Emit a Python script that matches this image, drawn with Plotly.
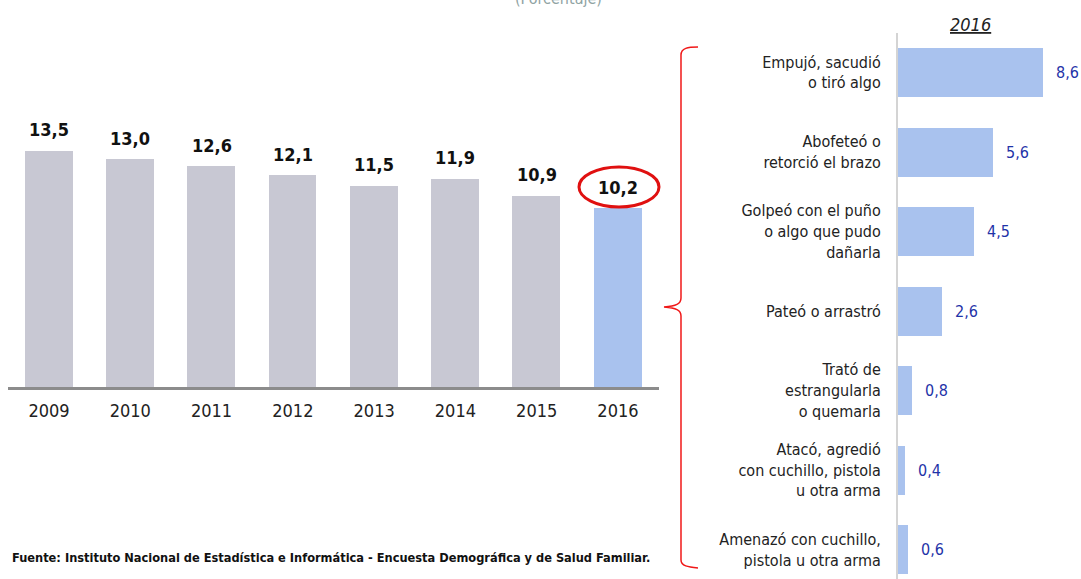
import plotly.graph_objects as go

years = ["2009", "2010", "2011", "2012", "2013", "2014", "2015", "2016"]
rates = [13.5, 13.0, 12.6, 12.1, 11.5, 11.9, 10.9, 10.2]

acts = [
    "Empujó, sacudió<br>o tiró algo",
    "Abofeteó o<br>retorció el brazo",
    "Golpeó con el puño<br>o algo que pudo<br>dañarla",
    "Pateó o arrastró",
    "Trató de<br>estrangularla<br>o quemarla",
    "Atacó, agredió<br>con cuchillo, pistola<br>u otra arma",
    "Amenazó con cuchillo,<br>pistola u otra arma",
]
act_vals = [8.6, 5.6, 4.5, 2.6, 0.8, 0.4, 0.6]

W, H = 1081, 579
NARROW = "DejaVu Sans Condensed, Liberation Sans Narrow, Arial Narrow, sans-serif"

def fx(x):
    return x / W

def fy(y):
    return 1 - y / H

def fmt(v):
    return f"{v:.1f}".replace(".", ",")

gray = "#c8c8d3"
blue = "#a9c2ee"
bar_colors = [gray] * (len(years) - 1) + [blue]

fig = go.Figure()
fig.add_trace(go.Bar(
    x=years, y=rates, marker=dict(color=bar_colors, line=dict(width=0)),
    width=0.59, xaxis="x", yaxis="y", hoverinfo="skip", showlegend=False,
))
fig.add_trace(go.Bar(
    y=acts, x=act_vals, orientation="h", marker=dict(color=blue, line=dict(width=0)),
    width=0.616, xaxis="x2", yaxis="y2", hoverinfo="skip", showlegend=False,
))

annotations = []
for i, v in enumerate(rates):
    annotations.append(dict(
        x=i, y=v, xref="x", yref="y", text=f"<b>{fmt(v)}</b>", showarrow=False,
        yanchor="bottom", yshift=9, font=dict(family=NARROW, size=18, color="#111111"),
    ))
for i, v in enumerate(act_vals):
    annotations.append(dict(
        x=v, y=i, xref="x2", yref="y2", text=fmt(v), showarrow=False,
        xanchor="left", xshift=11, font=dict(family=NARROW, size=16, color="#1f33a8"),
    ))
annotations.append(dict(
    x=fx(970), y=fy(24), xref="paper", yref="paper", text="<i><u>2016</u></i>",
    xanchor="center", yanchor="middle",
    showarrow=False, font=dict(family=NARROW, size=18, color="#222222"),
))
annotations.append(dict(
    x=fx(558), y=fy(-2), xref="paper", yref="paper", text="(Porcentaje)",
    xanchor="center", yanchor="middle",
    showarrow=False, font=dict(family=NARROW, size=16, color="#8fa3a3"),
))
annotations.append(dict(
    x=fx(10), y=fy(557), xref="paper", yref="paper", xanchor="left", yanchor="middle",
    text="<b>Fuente: Instituto Nacional de Estadística e Informática - Encuesta Demográfica y de Salud Familiar.</b>",
    showarrow=False, font=dict(family=NARROW, size=12.7, color="#111111"),
))

def path_from(cmds):
    out = []
    for c in cmds:
        if isinstance(c, str):
            out.append(c)
        else:
            out.append(f"{fx(c[0]):.5f},{fy(c[1]):.5f}")
    return " ".join(out)

brace = path_from([
    "M", (698, 47), "C", (688, 47), (681, 48), (681, 55),
    "L", (681, 298), "C", (681, 304), (676, 306), (664, 307),
    "C", (676, 308), (681, 310), (681, 316),
    "L", (681, 560), "C", (681, 566), (688, 567), (698, 568),
])

shapes = [
    dict(type="path", path=brace, xref="paper", yref="paper",
         line=dict(color="#f01818", width=1.5)),
    dict(type="circle", xref="paper", yref="paper",
         x0=fx(579), x1=fx(659), y0=fy(207), y1=fy(167),
         line=dict(color="#e01010", width=3)),
]

fig.update_layout(
    width=W, height=H,
    margin=dict(l=0, r=0, t=0, b=0, pad=0, autoexpand=False),
    paper_bgcolor="white", plot_bgcolor="white",
    bargap=0,
    font=dict(family=NARROW, color="#222222"),
    xaxis=dict(domain=[fx(8.35), fx(658.6)], anchor="y", type="category",
               range=[-0.5, 7.5], automargin=False,
               showgrid=False, showline=True, linecolor="#8c8c8c", linewidth=3,
               ticks="", ticklabelstandoff=5,
               tickfont=dict(family=NARROW, size=18, color="#222222"),
               fixedrange=True),
    yaxis=dict(domain=[fy(387), fy(72.4)], anchor="x", range=[0, 18],
               visible=False, fixedrange=True, automargin=False),
    xaxis2=dict(domain=[fx(898), 1.0], anchor="y2", range=[0, 10.83],
                visible=False, fixedrange=True, automargin=False),
    yaxis2=dict(domain=[0, fy(32.75)], anchor="x2", type="category",
                range=[6.371, -0.5], showgrid=False, showline=True,
                linecolor="#d4d4d4", linewidth=2, ticks="",
                ticklabelstandoff=12, automargin=False,
                tickfont=dict(family=NARROW, size=16, color="#222222"),
                fixedrange=True),
    annotations=annotations,
    shapes=shapes,
)

fig.write_html("out.html", post_script="document.body.style.margin='0px';",
               config={"displayModeBar": False})
